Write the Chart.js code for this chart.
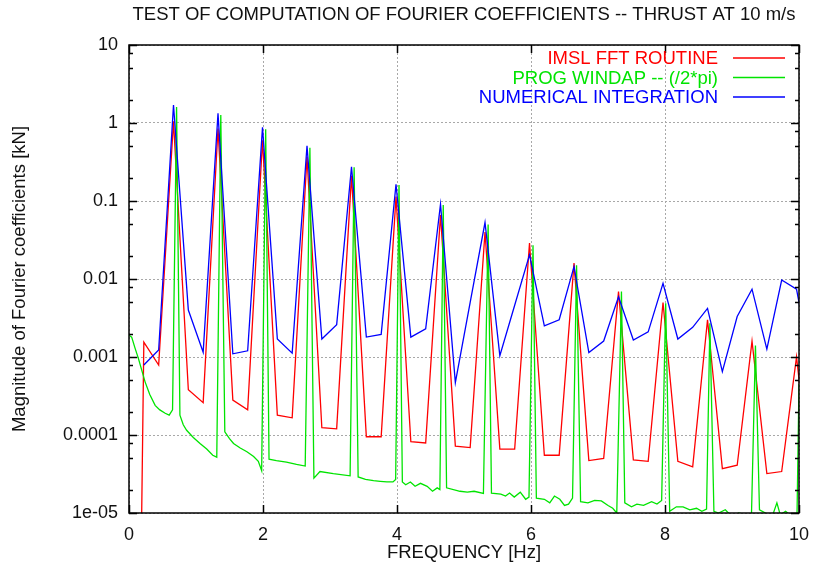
<!DOCTYPE html>
<html><head><meta charset="utf-8">
<script src="https://cdn.jsdelivr.net/npm/chart.js@4.4.0/dist/chart.umd.min.js"></script>
<style>html,body{margin:0;padding:0;background:#fff}#wrap{width:813px;height:574px}</style>
</head><body><div id="wrap"><canvas id="c" width="813" height="574"></canvas></div>
<script>
// Frequencies [Hz] of IMSL FFT and numerical-integration coefficients
const freq = [0, 0.2214, 0.4428, 0.6642, 0.8856, 1.107, 1.3284, 1.5498, 1.7712, 1.9926,
  2.214, 2.4354, 2.6568, 2.8782, 3.0996, 3.321, 3.5424, 3.7638, 3.9852, 4.2066,
  4.428, 4.6494, 4.8708, 5.0922, 5.3136, 5.535, 5.7564, 5.9778, 6.1992, 6.4206,
  6.642, 6.8634, 7.0848, 7.3062, 7.5276, 7.749, 7.9704, 8.1918, 8.4132, 8.6346,
  8.856, 9.0774, 9.2988, 9.5202, 9.7416, 9.963, 10.1844];

const imslFft = [1e-18, 0.00155, 0.00079, 1.05, 0.00038, 0.00026, 0.85, 0.00028, 0.00021, 0.6,
  0.00018, 0.000166, 0.37, 0.000124, 0.00012, 0.21, 9.5e-5, 9.5e-5, 0.114, 8.2e-5,
  7.9e-5, 0.066, 7.2e-5, 6.9e-5, 0.04, 6.6e-5, 6.6e-5, 0.029, 5.5e-5, 5.5e-5,
  0.016, 4.7e-5, 5.0e-5, 0.0069, 4.8e-5, 4.6e-5, 0.005, 4.6e-5, 3.9e-5, 0.003,
  3.7e-5, 4.1e-5, 0.0016, 3.2e-5, 3.4e-5, 0.001, 2e-5];

const numInteg = [null, 0.00079, 0.00123, 1.7, 0.0040, 0.00115, 1.33, 0.0011, 0.0012, 0.88,
  0.0017, 0.00112, 0.51, 0.0017, 0.0026, 0.275, 0.0018, 0.00195, 0.164, 0.0018,
  0.0023, 0.091, 0.00047, 0.005, 0.053, 0.00104, 0.0046, 0.0204, 0.0025, 0.003,
  0.0144, 0.00114, 0.0016, 0.0059, 0.00165, 0.0021, 0.0088, 0.0017, 0.0024, 0.0042,
  0.00065, 0.0033, 0.0074, 0.00126, 0.0097, 0.0074, 0.0007];

// PROG WINDAP (finer resolution)
const windapFreq = [0, 0.04, 0.09, 0.14, 0.19, 0.24, 0.31, 0.39, 0.46, 0.54, 0.60, 0.65,
  0.71, 0.76, 0.81, 0.86, 0.96, 1.06, 1.16, 1.25, 1.31,
  1.37, 1.43, 1.50, 1.56, 1.66, 1.76, 1.86, 1.93, 1.98,
  2.04, 2.09, 2.20, 2.35, 2.50, 2.63,
  2.70, 2.76, 2.85, 3.05, 3.30,
  3.36, 3.42, 3.53, 3.65, 3.75, 3.85, 3.94, 3.98,
  4.03, 4.08, 4.13, 4.20, 4.27, 4.35, 4.45, 4.53, 4.60, 4.64,
  4.69, 4.74, 4.94, 5.05, 5.15, 5.29,
  5.36, 5.41, 5.55, 5.62, 5.68, 5.75, 5.84, 5.92, 5.97,
  6.03, 6.08, 6.20, 6.28, 6.35, 6.43, 6.50, 6.56, 6.62,
  6.68, 6.74, 6.85, 6.95, 7.05, 7.15, 7.22, 7.28,
  7.35, 7.40, 7.50, 7.58, 7.68, 7.80, 7.88, 7.95,
  8.01, 8.07, 8.17, 8.27, 8.37, 8.47, 8.55, 8.62,
  8.67, 8.73, 8.80, 8.90, 9.00, 9.10, 9.20, 9.29,
  9.35, 9.41, 9.50, 9.60, 9.67, 9.72, 9.80, 9.90, 9.97, 10.0];
const windapMag = [0.0019, 0.0018, 0.0013, 0.00096, 0.00068, 0.00048, 0.00033, 0.00024, 0.00021, 0.00019, 0.00018, 0.00021,
  1.6, 0.00018, 0.000135, 0.000115, 9.3e-5, 7.8e-5, 6.6e-5, 5.5e-5, 5.2e-5,
  1.27, 0.00011, 9.0e-5, 7.8e-5, 6.8e-5, 6.1e-5, 5.3e-5, 4.6e-5, 3.5e-5,
  0.83, 4.9e-5, 4.7e-5, 4.5e-5, 4.2e-5, 4.0e-5,
  0.48, 2.8e-5, 3.4e-5, 3.2e-5, 3.0e-5,
  0.27, 2.9e-5, 2.7e-5, 2.6e-5, 2.55e-5, 2.5e-5, 2.5e-5, 2.7e-5,
  0.16, 2.5e-5, 2.3e-5, 2.5e-5, 2.2e-5, 2.4e-5, 2.2e-5, 1.9e-5, 2.1e-5, 2.0e-5,
  0.089, 2.1e-5, 1.9e-5, 1.85e-5, 1.9e-5, 1.78e-5,
  0.05, 1.8e-5, 1.75e-5, 1.65e-5, 1.8e-5, 1.6e-5, 1.85e-5, 1.5e-5, 1.6e-5,
  0.027, 1.55e-5, 1.5e-5, 1.35e-5, 1.65e-5, 1.5e-5, 1.25e-5, 1.3e-5, 1.55e-5,
  0.015, 1.4e-5, 1.35e-5, 1.45e-5, 1.43e-5, 1.25e-5, 1.15e-5, 1.0e-5,
  0.0069, 1.35e-5, 1.2e-5, 1.3e-5, 1.25e-5, 1.4e-5, 1.3e-5, 1.45e-5,
  0.0049, 1.05e-5, 1.2e-5, 1.2e-5, 1.1e-5, 1.15e-5, 1.05e-5, 1.12e-5,
  0.0027, 1.05e-5, 1.0e-5, 1.1e-5, 9e-6, 1.0e-5, 9.5e-6, 9e-6,
  0.0014, 1.1e-5, 1.0e-5, 9e-6, 1.35e-5, 9.5e-6, 1.05e-5, 9e-6, 9e-6, 0.00045];

const xTicks = [0, 2, 4, 6, 8, 10];
const xTickLabels = ['0', '2', '4', '6', '8', '10'];
const yTicks = [1e-5, 1e-4, 1e-3, 1e-2, 0.1, 1, 10];
const yTickLabels = ['1e-05', '0.0001', '0.001', '0.01', '0.1', '1', '10'];
const yMinorMult = [2, 5, 8];

const seriesNames = ['IMSL FFT ROUTINE', 'PROG WINDAP -- (/2*pi)', 'NUMERICAL INTEGRATION'];
const seriesColors = ['rgb(255,0,0)', 'rgb(0,228,0)', 'rgb(0,0,255)'];

const FONT = '"Liberation Sans", Arial, Helvetica, sans-serif';
const toPts = (xs, ys) => xs.map((x, i) => ({x: x, y: ys[i]}));

const framePlugin = {
  id: 'frame',
  afterDatasetsDraw(chart) {
    const {ctx, chartArea: a, scales: {x, y}} = chart;
    ctx.save();
    ctx.strokeStyle = '#000';
    ctx.lineWidth = 1.5;
    ctx.beginPath();
    xTicks.forEach(v => {
      const px = Math.round(x.getPixelForValue(v)) + 0.5;
      ctx.moveTo(px, a.bottom); ctx.lineTo(px, a.bottom - 8);
      ctx.moveTo(px, a.top); ctx.lineTo(px, a.top + 8);
    });
    yTicks.forEach(v => {
      const py = Math.round(y.getPixelForValue(v)) + 0.5;
      ctx.moveTo(a.left, py); ctx.lineTo(a.left + 8, py);
      ctx.moveTo(a.right, py); ctx.lineTo(a.right - 8, py);
    });
    yTicks.slice(0, -1).forEach(d => {
      yMinorMult.forEach(m => {
        const py = Math.round(y.getPixelForValue(d * m)) + 0.5;
        ctx.moveTo(a.left, py); ctx.lineTo(a.left + 4, py);
        ctx.moveTo(a.right, py); ctx.lineTo(a.right - 4, py);
      });
    });
    ctx.stroke();
    ctx.strokeRect(a.left, a.top, a.right - a.left, a.bottom - a.top);
    ctx.restore();
  },
  afterDraw(chart) {
    const {ctx, chartArea: a} = chart;
    ctx.save();
    ctx.font = '18.5px ' + FONT;
    ctx.textAlign = 'right';
    ctx.textBaseline = 'middle';
    seriesNames.forEach((name, i) => {
      const yy = a.top + 13 + i * 19.5;
      ctx.fillStyle = seriesColors[i];
      ctx.fillText(name, a.right - 81, yy + 1);
      ctx.strokeStyle = seriesColors[i];
      ctx.lineWidth = 1.3;
      ctx.beginPath();
      ctx.moveTo(a.right - 66, yy); ctx.lineTo(a.right - 14, yy);
      ctx.stroke();
    });
    ctx.restore();
  }
};

new Chart(document.getElementById('c'), {
  type: 'line',
  data: {
    datasets: [
      {label: seriesNames[0], data: toPts(freq, imslFft), borderColor: seriesColors[0], order: 3},
      {label: seriesNames[1], data: toPts(windapFreq, windapMag), borderColor: seriesColors[1], order: 2},
      {label: seriesNames[2], data: toPts(freq, numInteg), borderColor: seriesColors[2], order: 1}
    ]
  },
  options: {
    responsive: false,
    animation: false,
    devicePixelRatio: 1,
    parsing: false,
    normalized: true,
    elements: {
      line: {borderWidth: 1.3, tension: 0, fill: false},
      point: {radius: 0, hoverRadius: 0}
    },
    layout: {padding: {left: 0, right: 14, top: 0, bottom: 0}},
    plugins: {
      legend: {display: false},
      tooltip: {enabled: false},
      title: {
        display: true,
        fullSize: false,
        text: 'TEST OF COMPUTATION OF FOURIER COEFFICIENTS -- THRUST AT 10 m/s',
        color: '#111',
        font: {family: FONT, size: 18.5, weight: 'normal'},
        padding: {top: 4, bottom: 18.8}
      }
    },
    scales: {
      x: {
        type: 'linear', min: 0, max: 10,
        afterBuildTicks: s => { s.ticks = xTicks.map(v => ({value: v})); },
        afterFit: s => { s.height = 61; s.paddingRight = 0; s.paddingLeft = 0; },
        ticks: {
          callback: (v, i) => xTickLabels[i],
          color: '#111', padding: 11, maxRotation: 0,
          font: {family: FONT, size: 18}
        },
        grid: {color: '#a8a8a8', lineWidth: 1, drawTicks: false},
        border: {display: false, dash: [2, 2]},
        title: {display: true, text: 'FREQUENCY [Hz]', color: '#111',
          font: {family: FONT, size: 18.5}, padding: {top: 0, bottom: 10}}
      },
      y: {
        type: 'logarithmic', min: 1e-5, max: 10,
        afterBuildTicks: s => { s.ticks = yTicks.map(v => ({value: v})); },
        afterFit: s => { s.width = 129; },
        ticks: {
          callback: (v, i) => yTickLabels[i],
          color: '#111', padding: 11,
          font: {family: FONT, size: 18}
        },
        grid: {color: '#a8a8a8', lineWidth: 1, drawTicks: false},
        border: {display: false, dash: [2, 2]},
        title: {display: true, text: 'Magnitude of Fourier coefficients [kN]', color: '#111',
          font: {family: FONT, size: 18.5}, padding: {top: 9, bottom: 0}}
      }
    }
  },
  plugins: [framePlugin]
});
</script></body></html>
